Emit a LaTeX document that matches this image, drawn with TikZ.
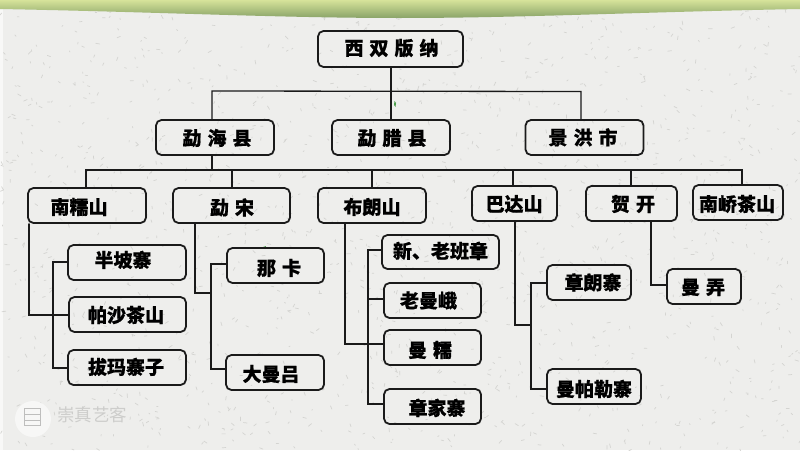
\documentclass[tikz,border=0pt]{standalone}
\usepackage{fontspec}
\newfontfamily\cjk[BoldFeatures={FakeBold=0.6}]{Noto Sans CJK SC}
\definecolor{paper}{HTML}{EEEEEC}
\definecolor{fleck}{HTML}{D4D4D1}
\definecolor{ink}{HTML}{1A1A1A}
\definecolor{bandhi}{HTML}{D6E39A}
\definecolor{bandmid}{HTML}{ABC47E}
\definecolor{bandlo}{HTML}{89A368}
\newcommand{\gp}{\hspace{6pt}}
% name, x1, y1, x2, y2, text dx, text dy, text
\newcommand{\bx}[8]{%
  \node[orgbox,minimum width=#4pt-#2pt,minimum height=#5pt-#3pt] (#1) at ({(#2+#4)/2},{(#3+#5)/2})
    {\hspace*{\dimexpr 2\dimexpr #6pt\relax\relax}\raisebox{\dimexpr -#7pt\relax}{#8}};}
\tikzset{
  orgbox/.style={draw=ink,line width=1.8pt,rounded corners=5.5pt,inner sep=0pt,
    text=black,font=\cjk\bfseries\fontsize{19}{19}\selectfont,text height=14.4pt,text depth=0pt},
  link/.style={draw=ink,line width=1.3pt,line cap=round,line join=miter}
}
\begin{document}
\begin{tikzpicture}[x=1pt,y=-1pt]
\useasboundingbox (0,0) rectangle (800,450);
% paper
\fill[paper] (0,0) rectangle (800,450);
\fill[white!60!paper] (0,0) rectangle (3,450);
\pgfmathsetseed{4217}
\foreach \i in {1,...,1500}{
  \pgfmathsetmacro{\fx}{rnd*800}
  \pgfmathsetmacro{\fy}{rnd*450}
  \pgfmathsetmacro{\fa}{rnd*360}
  \pgfmathsetmacro{\fl}{1+rnd*3}
  \draw[fleck,line width=0.7pt,line cap=round] (\fx,\fy) -- ++({\fl*cos(\fa)},{\fl*sin(\fa)});
}
% top band
\shade[top color=bandhi,middle color=bandmid,bottom color=bandlo]
  (0,0) -- (800,0) -- (800,9) .. controls (640,12) and (520,18) .. (400,18)
  .. controls (280,18) and (160,12) .. (0,9) -- cycle;
% small green specks
\fill[green!45!black!70] (394.5,101) -- (396,103) -- (395.5,107) -- (394,105) -- cycle;
\fill[green!45!black!70] (263,247) -- (266,246) -- (265,249) -- cycle;
% watermark
\fill[white!55!paper] (33,419) circle (18);
\draw[black!20!paper,line width=0.9pt] (24.5,408.5) rectangle (40,425);
\draw[black!20!paper,line width=0.9pt] (24.5,414) -- (40,414) (24.5,420) -- (40,420);
\node[text=black!14!paper,font=\cjk\fontsize{17.5}{18}\selectfont,inner sep=0pt] (mark) at (92,415) {崇真艺客};
% boxes
\bx{root}{318}{31}{463}{67}{1}{-1}{西\gp 双\gp 版\gp 纳}
\bx{hai}{156}{120}{274}{155}{2}{0.5}{勐\gp 海\gp 县}
\bx{la}{332}{120}{450}{155}{1}{0.5}{勐\gp 腊\gp 县}
\bx{jing}{525.5}{120}{643.5}{155}{-1.5}{0}{景\gp 洪\gp 市}
\bx{nanr}{28}{188}{146}{223}{-8}{1.5}{南糯山}
\bx{song}{173}{188}{290}{223}{0.5}{2}{勐\gp 宋}
\bx{bul}{318}{188}{426}{223}{0}{1.5}{布朗山}
\bx{bad}{472}{186}{557}{221}{-0.5}{0.5}{巴达山}
\bx{hek}{586}{186}{677}{221}{1.5}{0.5}{贺\gp 开}
\bx{nanq}{693}{185}{783}{220}{-1}{1.5}{南峤茶山}
\bx{banp}{68}{245}{186}{280}{-4}{-2.5}{半坡寨}
\bx{pash}{69}{297}{186}{332}{-1.5}{0.5}{帕沙茶山}
\bx{bam}{68}{350}{186}{385}{-1}{-0.5}{拔玛寨子}
\bx{nak}{227}{248}{324}{283}{3.5}{2.5}{那\gp 卡}
\bx{dam}{226}{355}{324}{390}{-4}{1.5}{大曼吕}
\bx{xinl}{382}{235}{499}{269}{0}{-1}{新、老班章}
\bx{laom}{384}{283}{481}{318}{-4}{0}{老曼峨}
\bx{manr}{384}{330}{481}{365}{-2.5}{2.5}{曼\gp 糯}
\bx{zhaj}{384}{389}{481}{424}{4.5}{1.5}{章家寨}
\bx{zhal}{547}{265}{631}{300}{4}{0}{章朗寨}
\bx{manp}{547}{369}{641}{404}{0}{2.5}{曼帕勒寨}
\bx{manl}{667}{269}{741}{304}{-1}{0.5}{曼\gp 弄}
% level 1 bus
\coordinate (top) at (391,91);
\coordinate (topL) at (212,91);
\coordinate (topR) at (581,91.5);
\draw[link] (root.south -| top) -- (la.north -| top);
\draw[link] (topL |- hai.north) -- (topL) -- (topR) -- (topR |- jing.north);
% level 2 bus
\coordinate (busL) at (86,170);
\coordinate (busH) at (212,170);
\coordinate (busS) at (232,170);
\coordinate (busB) at (372,170);
\coordinate (busD) at (513,170);
\coordinate (busK) at (631,170);
\coordinate (busR) at (742,170);
\draw[link] (hai.south -| busH) -- (busH);
\draw[link] (busL |- nanr.north) -- (busL) -- (busR) -- (busR |- nanq.north);
\draw[link] (busS) -- (busS |- song.north);
\draw[link] (busB) -- (busB |- bul.north);
\draw[link] (busD) -- (busD |- bad.north);
\draw[link] (busK) -- (busK |- hek.north);
% nanr family
\coordinate (a1) at (29,315);
\coordinate (a2) at (53,262);
\coordinate (a3) at (53,368);
\draw[link] (a1 |- nanr.south) -- (a1) -- (a1 -| pash.west);
\draw[link] (a2 -| banp.west) -- (a2) -- (a3) -- (a3 -| bam.west);
% song family
\coordinate (b1) at (195,293);
\coordinate (b2) at (211,264);
\coordinate (b3) at (211,369);
\draw[link] (b1 |- song.south) -- (b1) -- (b1 -| b2);
\draw[link] (b2 -| nak.west) -- (b2) -- (b3) -- (b3 -| dam.west);
% bul family
\coordinate (c1) at (345,344);
\coordinate (c2) at (368,250);
\coordinate (c3) at (368,299);
\coordinate (c4) at (368,404);
\draw[link] (c1 |- bul.south) -- (c1) -- (c1 -| manr.west);
\draw[link] (c2 -| xinl.west) -- (c2) -- (c4) -- (c4 -| zhaj.west);
\draw[link] (c3) -- (c3 -| laom.west);
% bad family
\coordinate (d1) at (515,325);
\coordinate (d2) at (531,283);
\coordinate (d3) at (531,389);
\draw[link] (d1 |- bad.south) -- (d1) -- (d1 -| d2);
\draw[link] (d2 -| zhal.west) -- (d2) -- (d3) -- (d3 -| manp.west);
% hek family
\coordinate (e1) at (651,285);
\draw[link] (e1 |- hek.south) -- (e1) -- (e1 -| manl.west);
\end{tikzpicture}
\end{document}
